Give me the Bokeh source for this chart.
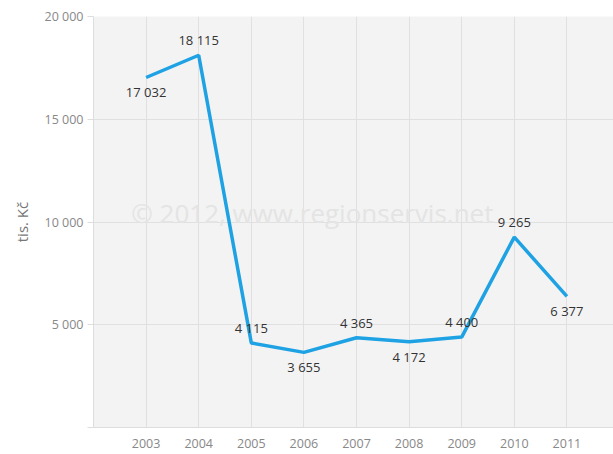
from bokeh.plotting import figure
from bokeh.models import Range1d, FixedTicker, CustomJSTickFormatter, ColumnDataSource, Label
from bokeh.core.properties import value
from bokeh.embed import file_html
from bokeh.resources import INLINE

years = [2003, 2004, 2005, 2006, 2007, 2008, 2009, 2010, 2011]
values = [17032, 18115, 4115, 3655, 4365, 4172, 4400, 9265, 6377]
y_ticks = [0, 5000, 10000, 15000, 20000]
y_title = "tis. Kč"
watermark = "© 2012, www.regionservis.net"

FONT = "Open Sans"

def fmt(v):
    return f"{v:,}".replace(",", " ")

# label above unless the point is a local minimum
offsets = []
for i, v in enumerate(values):
    neigh = [values[j] for j in (i - 1, i + 1) if 0 <= j < len(values)]
    offsets.append(15 if all(n > v for n in neigh) else -15)

src = ColumnDataSource(dict(x=years, y=values, label=[fmt(v) for v in values], off=offsets))

p = figure(width=613, height=454, output_backend="svg", toolbar_location=None,
           x_range=Range1d(2002, 2011.886), y_range=Range1d(0, 20000),
           min_border_left=93, min_border_right=0, min_border_top=16, min_border_bottom=27)
p.outline_line_color = None
p.background_fill_color = "#f3f3f3"
p.border_fill_color = "white"

wm = Label(x=2006.16, y=10460, text=watermark, text_align="center", text_baseline="middle",
           text_font_size="26px", text_color="#e4e4e4", text_font=FONT)
p.add_layout(wm)

p.line("x", "y", source=src, line_color="#1ea2e3", line_width=3.5)
p.text("x", "y", text="label", source=src, y_offset="off", text_align="center",
       text_baseline="middle", text_font_size="13px", text_color="#333333",
       text_font=value(FONT))

# axes
xa = p.xaxis[0]
xa.ticker = FixedTicker(ticks=years)
xa.axis_line_color = "#dddddd"
xa.major_tick_line_color = None
xa.minor_tick_line_color = None
xa.major_label_text_color = "#888888"
xa.major_label_text_font = FONT
xa.major_label_text_font_size = "12.5px"
xa.major_label_standoff = 5

ya = p.yaxis[0]
ya.ticker = FixedTicker(ticks=y_ticks)
ya.formatter = CustomJSTickFormatter(code="""
if (tick == 0) return "";
return tick.toString().replace(/\\B(?=(\\d{3})+(?!\\d))/g, " ");
""")
ya.axis_line_color = "#dddddd"
ya.major_tick_line_color = "#dddddd"
ya.major_tick_out = 6
ya.major_tick_in = 0
ya.minor_tick_line_color = None
ya.major_label_text_color = "#888888"
ya.major_label_text_font = FONT
ya.major_label_text_font_size = "12.5px"
ya.major_label_standoff = 4
ya.axis_label = y_title
ya.axis_label_text_font = FONT
ya.axis_label_text_font_style = "normal"
ya.axis_label_text_font_size = "15px"
ya.axis_label_text_color = "#777777"
ya.axis_label_standoff = 10

p.xgrid.ticker = FixedTicker(ticks=years)
p.ygrid.ticker = FixedTicker(ticks=y_ticks)
p.xgrid.grid_line_color = "#e0e0e0"
p.ygrid.grid_line_color = "#e0e0e0"

open("out.html", "w").write(file_html(p, INLINE))
